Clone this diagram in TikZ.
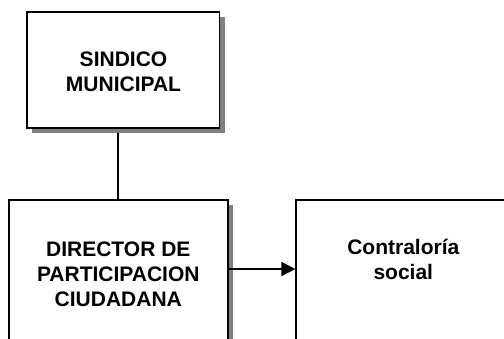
\documentclass[tikz,border=0pt]{standalone}
\usepackage{fontspec}
\setmainfont{Liberation Sans}
\usetikzlibrary{arrows.meta,shadows,backgrounds}
\tikzset{
  orgbox/.style={draw=black, line width=1.8pt, fill=white, inner sep=0pt,
    drop shadow={shadow xshift=5pt, shadow yshift=-5pt, fill=black!50, opacity=1}},
  boxtext/.style={align=center, inner sep=0pt, font=\fontsize{21}{25}\selectfont\bfseries},
  conn/.style={draw=black, line width=1.8pt},
}
\begin{document}
\begin{tikzpicture}[x=1pt,y=-1pt]
\useasboundingbox (0,0) rectangle (504,338);
\clip (0,0) rectangle (504,338);
% boxes
\node[orgbox, minimum width=192.5pt, minimum height=116pt] (sind) at (123.25,70) {};
\node[orgbox, minimum width=219pt, minimum height=140pt] (dir) at (118.2,270) {};
\node[orgbox, minimum width=219pt, minimum height=140pt] (con) at (405.8,270) {};
% texts
\node[boxtext] (tsind) at (123.5,71.7) {SINDICO\\MUNICIPAL};
\node[boxtext] (tdir) at (118.3,274.7) {DIRECTOR DE\\PARTICIPACION\\CIUDADANA};
\node[boxtext] (tcon) at (403.3,259.5) {Contraloría\\social};
% connectors
\begin{pgfonlayer}{background}
\fill[white] (0,0) rectangle (504,338);
\draw[conn] (sind.south -| dir.north) -- (dir.north);
\end{pgfonlayer}
\draw[conn, -{Triangle[length=14pt,width=14pt]}] ([yshift=1pt]dir.east) -- ([yshift=1pt]con.west);
\end{tikzpicture}
\end{document}
